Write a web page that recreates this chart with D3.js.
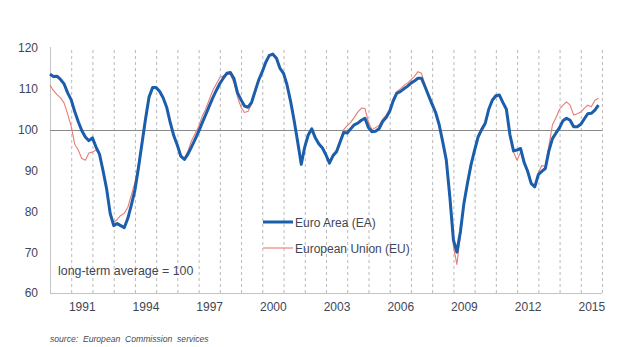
<!DOCTYPE html>
<html>
<head>
<meta charset="utf-8">
<script src="https://cdn.jsdelivr.net/npm/d3@7"></script>
<style>
  html, body { margin: 0; padding: 0; background: #fff; }
  svg { display: block; font-family: "Liberation Sans", Arial, sans-serif; }
</style>
</head>
<body>
<svg id="chart" width="620" height="347"></svg>
<script>
// ---- data (bimonthly readings, Jan 1990 onwards) ----
const startMonth = "1990-01";
const stepMonths = 2;
const seriesNames = ["Euro Area (EA)", "European Union (EU)"];
const eaValues = [
  113.6,113.0,113.1,112.3,111.2,109.0,
  107.3,104.5,102.0,99.8,98.2,97.3,
  98.0,95.8,94.0,90.0,85.5,79.5,
  76.5,77.0,76.5,76.0,78.3,81.6,
  85.2,90.5,96.5,102.5,108.0,110.3,
  110.3,109.4,107.8,105.5,101.7,98.5,
  96.2,93.5,92.7,94.0,95.8,97.6,
  99.5,101.6,103.6,105.7,107.8,109.6,
  111.3,112.6,113.8,114.0,112.5,109.0,
  107.3,105.8,105.5,106.7,109.5,112.2,
  114.2,116.5,118.2,118.5,117.5,115.0,
  113.8,111.0,107.0,102.3,97.0,91.5,
  95.8,98.7,100.2,98.0,96.5,95.5,
  93.8,91.8,93.6,94.6,97.0,99.3,
  99.2,100.2,101.2,101.6,102.3,102.8,
  100.5,99.5,99.6,100.2,102.0,103.0,
  104.5,107.0,108.9,109.3,110.0,110.6,
  111.4,111.9,112.6,112.6,110.5,108.3,
  106.2,104.2,101.2,97.0,92.5,83.5,
  73.0,70.0,75.0,82.0,87.0,91.5,
  95.0,98.2,100.0,101.5,105.0,107.2,
  108.3,108.5,106.7,105.0,98.7,94.8,
  95.0,95.4,92.0,89.8,86.8,86.0,
  89.0,89.8,90.5,94.8,97.8,99.2,
  100.5,102.2,102.8,102.3,100.7,100.7,
  101.3,102.6,103.9,104.0,104.8,106.0
];
const euValues = [
  110.9,109.6,108.6,107.8,106.5,103.8,
  100.8,96.5,95.0,93.0,92.5,94.3,
  94.5,95.0,94.2,90.0,85.5,80.0,
  77.3,78.0,79.0,79.5,81.0,84.0,
  87.0,91.5,97.0,102.8,108.0,110.0,
  110.2,109.5,107.8,105.5,101.5,98.0,
  95.8,93.2,93.0,94.8,97.3,99.0,
  100.8,103.2,105.0,107.3,109.6,111.2,
  112.8,113.2,113.5,113.5,111.5,108.0,
  105.5,104.2,104.5,106.2,109.0,112.0,
  114.3,116.5,118.1,118.2,117.2,115.0,
  113.6,110.8,107.0,102.5,97.3,92.0,
  95.8,98.5,99.8,98.0,96.8,95.5,
  94.0,92.3,94.0,95.0,97.5,100.0,
  101.0,101.8,103.0,104.3,105.3,105.2,
  101.8,100.0,100.5,101.0,102.5,103.6,
  105.0,107.5,109.3,110.0,110.8,111.4,
  112.2,113.0,114.2,113.8,111.0,108.8,
  106.8,104.5,101.5,97.0,92.0,82.5,
  71.5,67.0,74.0,81.5,87.0,91.5,
  95.5,98.6,100.5,101.8,104.8,107.2,
  108.0,108.2,106.5,104.8,98.5,94.5,
  92.5,94.5,91.8,89.8,87.0,86.3,
  89.5,91.2,91.0,96.0,101.2,103.0,
  105.0,106.0,106.8,106.0,103.6,103.9,
  104.3,105.2,106.0,105.6,107.2,107.7
];
const yTicks = [60, 70, 80, 90, 100, 110, 120];
const xLabelYears = [1991, 1994, 1997, 2000, 2003, 2006, 2009, 2012, 2015];
const gridYears = d3.range(1991, 2017);
const xDomainYears = [1990, 2016];
const referenceLevel = 100;
const noteText = "long-term average = 100";
const sourceText = "source:  European  Commission  services";

// ---- layout ----
const svg = d3.select("#chart");
const plot = { left: 50, right: 602, top: 48, bottom: 293 };
const textColor = "#3f4656";
const eaColor = "#1b5eab";
const euColor = "#e87c74";

const parseMonth = d3.timeParse("%Y-%m");
const start = parseMonth(startMonth);
const dates = eaValues.map((_, i) => d3.timeMonth.offset(start, i * stepMonths));

const x = d3.scaleTime()
  .domain(xDomainYears.map(y => new Date(y, 0, 1)))
  .range([plot.left, plot.right]);
const y = d3.scaleLinear().domain([60, 120]).range([plot.bottom, plot.top]);

// vertical dashed year gridlines
const gridAxis = d3.axisBottom(x)
  .tickValues(gridYears.map(yr => new Date(yr, 0, 1)))
  .tickSize(-(plot.bottom - plot.top))
  .tickFormat("");
const gg = svg.append("g").attr("transform", `translate(0,${plot.bottom})`).call(gridAxis);
gg.select(".domain").remove();
gg.selectAll(".tick line")
  .attr("stroke", "#b9b9b9")
  .attr("stroke-width", 1)
  .attr("stroke-dasharray", "3,3");

// x axis line
svg.append("line")
  .attr("x1", plot.left).attr("x2", plot.right)
  .attr("y1", plot.bottom + 0.5).attr("y2", plot.bottom + 0.5)
  .attr("stroke", "#c4c4c4").attr("stroke-width", 1);
// y axis line
svg.append("line")
  .attr("x1", plot.left + 0.5).attr("x2", plot.left + 0.5)
  .attr("y1", plot.top - 1).attr("y2", plot.bottom)
  .attr("stroke", "#c4c4c4").attr("stroke-width", 1);

// x labels (centred in the year)
const xLabAxis = d3.axisBottom(x)
  .tickValues(xLabelYears.map(yr => new Date(yr, 6, 1)))
  .tickSize(0)
  .tickPadding(9)
  .tickFormat(d3.timeFormat("%Y"));
const xl = svg.append("g").attr("transform", `translate(0,${plot.bottom})`).call(xLabAxis);
xl.select(".domain").remove();
xl.selectAll("text").attr("fill", textColor).attr("font-size", 12)
  .attr("font-family", '"Liberation Sans", Arial, sans-serif');

// y labels
const yAxis = d3.axisLeft(y).tickValues(yTicks).tickSize(0).tickPadding(12);
const yl = svg.append("g").attr("transform", `translate(${plot.left},0)`).call(yAxis);
yl.select(".domain").remove();
yl.selectAll("text").attr("fill", textColor).attr("font-size", 12)
  .attr("font-family", '"Liberation Sans", Arial, sans-serif');

// reference line at 100
svg.append("line")
  .attr("x1", plot.left).attr("x2", plot.right)
  .attr("y1", Math.round(y(referenceLevel)) + 0.5).attr("y2", Math.round(y(referenceLevel)) + 0.5)
  .attr("stroke", "#8a8a8a").attr("stroke-width", 1);

// lines
const line = d3.line()
  .x((d, i) => x(dates[i]))
  .y(d => y(d))
  .curve(d3.curveLinear);

svg.append("path").datum(euValues)
  .attr("d", line).attr("fill", "none")
  .attr("stroke", euColor).attr("stroke-width", 1.1)
  .attr("stroke-linejoin", "round");
svg.append("path").datum(eaValues)
  .attr("d", line).attr("fill", "none")
  .attr("stroke", eaColor).attr("stroke-width", 3)
  .attr("stroke-linejoin", "round");

// legend
const legend = svg.append("g").attr("transform", "translate(263,222)");
const legendItems = [
  { name: seriesNames[0], color: eaColor, width: 3 },
  { name: seriesNames[1], color: euColor, width: 1.1 }
];
legendItems.forEach((it, i) => {
  const g = legend.append("g").attr("transform", `translate(0,${i * 26})`);
  g.append("line").attr("x1", 0).attr("x2", 30).attr("y1", 0).attr("y2", 0)
    .attr("stroke", it.color).attr("stroke-width", it.width);
  g.append("text").attr("x", 32).attr("y", 4.5)
    .attr("font-size", 12).attr("fill", textColor).text(it.name);
});

// note
svg.append("text").attr("x", 58).attr("y", 275)
  .attr("font-size", 12.4).attr("fill", textColor).text(noteText);

// source
svg.append("text").attr("x", 50).attr("y", 342)
  .attr("font-size", 8.6).attr("font-style", "italic").attr("fill", "#4a4a4a")
  .attr("xml:space", "preserve").style("white-space", "pre")
  .text(sourceText);
</script>
</body>
</html>
